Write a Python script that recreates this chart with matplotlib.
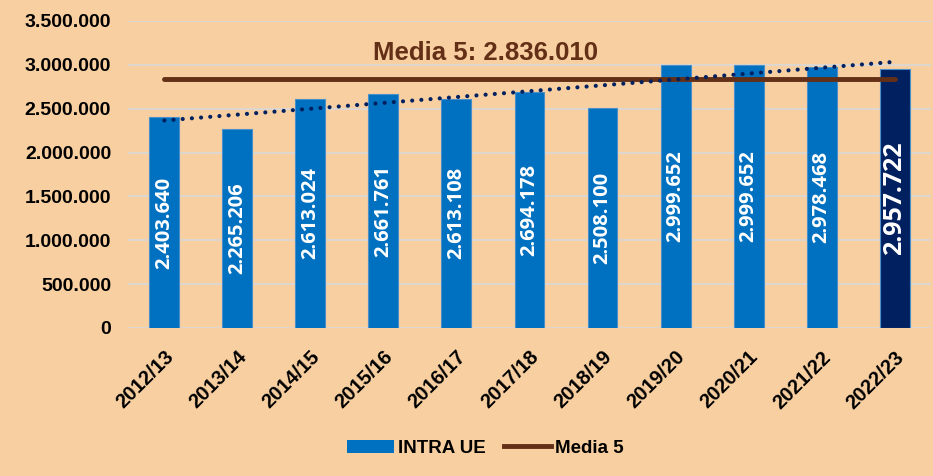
import matplotlib
matplotlib.use("Agg")
import matplotlib.pyplot as plt
import numpy as np
from matplotlib.patches import Patch
from matplotlib.lines import Line2D

categories = ["2012/13", "2013/14", "2014/15", "2015/16", "2016/17", "2017/18",
              "2018/19", "2019/20", "2020/21", "2021/22", "2022/23"]
values = [2403640, 2265206, 2613024, 2661761, 2613108, 2694178,
          2508100, 2999652, 2999652, 2978468, 2957722]
media5 = 2836010
yticks = [0, 500000, 1000000, 1500000, 2000000, 2500000, 3000000, 3500000]

def fmt(v):
    return f"{int(v):,}".replace(",", ".")

plt.rcParams['font.family'] = ['Liberation Sans', 'DejaVu Sans']

bg = "#F8CFA0"
fig = plt.figure(figsize=(9.33, 4.76), dpi=100, facecolor=bg)
ax = fig.add_axes([0.137, 0.311, 0.861, 0.645], facecolor=bg)

x = np.arange(len(categories))
colors = ["#0070C0"] * (len(values) - 1) + ["#002060"]
ax.bar(x, values, width=0.41, color=colors, edgecolor="#4A8FC8", linewidth=0.8, zorder=3)

# trendline (linear)
coef = np.polyfit(x, values, 1)
xt = np.array([x[0], x[-1] - 0.02])
ax.plot(xt, np.polyval(coef, xt), linestyle=(0, (0.01, 2.2)), color="#002060",
        linewidth=3.0, dash_capstyle="round", zorder=5)

# media line
ax.plot([x[0], x[-1]], [media5, media5], color="#632F17", linewidth=3.5,
        solid_capstyle="round", zorder=4)
ax.text(4.4, 3140000, f"Media 5: {fmt(media5)}", color="#632F17", fontsize=18.5,
        fontweight="bold", ha="center", va="center", zorder=6)

for i, v in enumerate(values):
    last = i == len(values) - 1
    ax.text(i, v / 2, fmt(v), rotation=90, ha="center", va="center",
            color="white", fontweight="bold",
            fontsize=18 if last else 14.5, family=['Open Sans', 'DejaVu Sans'], zorder=6)

ax.set_xlim(-0.5, len(categories) - 0.5)
ax.set_ylim(0, 3500000)
ax.set_yticks(yticks)
ax.set_yticklabels([fmt(t) for t in yticks], fontsize=14, fontweight="bold")
ax.set_xticks(x)
ax.set_xticklabels(categories, rotation=45, ha="right", rotation_mode="anchor",
                   fontsize=14.5, fontweight="bold")
ax.tick_params(axis="y", length=0, pad=12)
ax.tick_params(axis="x", length=0, pad=14)
ax.grid(axis="y", color="#D9D9D9", linewidth=1.2, zorder=0)
for s in ax.spines.values():
    s.set_visible(False)

handles = [Patch(facecolor="#0070C0", label="INTRA UE"),
           Line2D([0], [0], color="#632F17", linewidth=3.5, label="Media 5")]
leg = fig.legend(handles=handles, loc="center", bbox_to_anchor=(0.52, 0.058),
                 ncol=2, frameon=False, prop={"weight": "bold", "size": 13.5},
                 handlelength=2.5, columnspacing=1.0, handletextpad=0.2)

fig.savefig("out.png", dpi=100, facecolor=bg)
